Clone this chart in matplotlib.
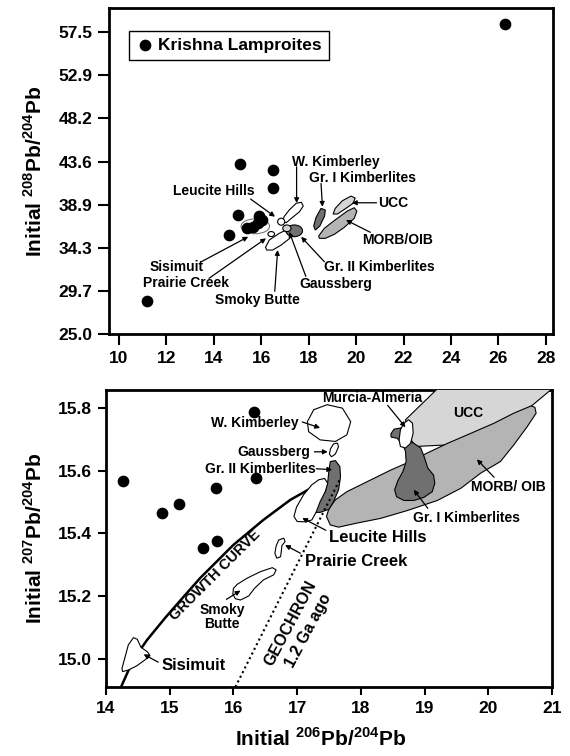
import numpy as np
import matplotlib
matplotlib.use('Agg')
import matplotlib.pyplot as plt
from matplotlib.patches import Ellipse

plt.rcParams['font.family'] = ['Liberation Sans', 'DejaVu Sans']
plt.rcParams['font.weight'] = 'bold'
plt.rcParams['mathtext.fontset'] = 'custom'
plt.rcParams['mathtext.rm'] = 'Liberation Sans:bold'
plt.rcParams['mathtext.bf'] = 'Liberation Sans:bold'

# Krishna lamproites, 206Pb/204Pb vs 208Pb/204Pb
k_x_208 = [26.27, 15.11, 16.48, 16.48, 15.02, 15.92, 14.62, 15.40, 15.65, 15.85, 16.05, 11.20]
k_y_208 = [58.40, 43.30, 42.65, 40.70, 37.80, 37.70, 35.70, 36.40, 36.55, 36.90, 37.30, 28.60]

# Krishna lamproites, 206Pb/204Pb vs 207Pb/204Pb
k_x_207 = [14.26, 14.88, 15.15, 15.72, 16.32, 16.36, 15.52, 15.74]
k_y_207 = [15.568, 15.466, 15.494, 15.544, 15.786, 15.576, 15.353, 15.376]

y208_ticks = [25.0, 29.64, 34.29, 38.93, 43.57, 48.21, 52.86, 57.5]
y208_labels = ['25.0', '29.7', '34.3', '38.9', '43.6', '48.2', '52.9', '57.5']
x208_ticks = [10, 12, 14, 16, 18, 20, 22, 24, 26, 28]
x207_ticks = [14, 15, 16, 17, 18, 19, 20, 21]
y207_ticks = [15.0, 15.2, 15.4, 15.6, 15.8]

# comparison fields, upper panel
wk_top = [(17.47, 39.07), (17.69, 39.18), (17.77, 38.78), (17.61, 38.16), (17.30, 37.52),
          (17.05, 36.98), (16.90, 37.13), (16.96, 37.63), (17.18, 38.35)]
gr1_top = [(18.52, 38.53), (18.70, 38.35), (18.67, 37.70), (18.47, 36.63), (18.28, 36.19),
           (18.21, 36.63), (18.31, 37.56)]
ucc_top = [(19.12, 38.53), (19.42, 39.35), (19.78, 39.85), (19.96, 39.64), (19.87, 39.07),
           (19.57, 38.53), (19.21, 37.92), (19.03, 37.92)]
morb_top = [(18.42, 35.55), (18.66, 36.38), (19.15, 37.35), (19.63, 38.24), (19.92, 38.60),
            (20.03, 38.24), (19.92, 37.45), (19.50, 36.48), (19.08, 35.73), (18.70, 35.30),
            (18.45, 35.30)]
smoky_top = [(16.18, 34.33), (16.34, 35.12), (16.76, 35.84), (17.11, 36.27), (17.35, 36.33),
             (17.39, 35.90), (17.18, 35.26), (16.84, 34.58), (16.48, 34.04), (16.23, 34.04)]

# comparison fields, lower panel
growth_x = [14.236, 14.425, 14.645, 14.928, 15.116, 15.478, 15.997, 16.469, 16.893, 17.365]
growth_y = [14.911, 14.997, 15.061, 15.131, 15.175, 15.258, 15.363, 15.443, 15.507, 15.561]
geochron_x = [16.03, 17.68]
geochron_y = [14.911, 15.576]

wk_bot = [(17.26, 15.794), (17.47, 15.810), (17.71, 15.799), (17.84, 15.756), (17.78, 15.714),
          (17.60, 15.693), (17.36, 15.698), (17.18, 15.724), (17.16, 15.756)]
gauss_bot = [(17.569, 15.685), (17.632, 15.688), (17.648, 15.676), (17.60, 15.653),
             (17.538, 15.644), (17.506, 15.653), (17.522, 15.669)]
gr2_bot = [(17.52, 15.629), (17.60, 15.632), (17.67, 15.613), (17.68, 15.581), (17.65, 15.539),
           (17.57, 15.501), (17.50, 15.477), (17.36, 15.467), (17.23, 15.467), (17.26, 15.484),
           (17.35, 15.507), (17.44, 15.533), (17.48, 15.565), (17.50, 15.602)]
leucite_bot = [(17.34, 15.571), (17.43, 15.575), (17.48, 15.560), (17.44, 15.533), (17.36, 15.501),
               (17.30, 15.469), (17.23, 15.443), (17.13, 15.437), (17.00, 15.438), (16.95, 15.454),
               (16.99, 15.484), (17.10, 15.523), (17.23, 15.555)]
prairie_bot = [(16.71, 15.379), (16.79, 15.385), (16.81, 15.374), (16.76, 15.361), (16.75, 15.342),
               (16.74, 15.326), (16.68, 15.321), (16.65, 15.337), (16.67, 15.360)]
smoky_bot = [(16.00, 15.225), (16.06, 15.238), (16.21, 15.257), (16.42, 15.278), (16.61, 15.291),
             (16.67, 15.284), (16.63, 15.268), (16.47, 15.252), (16.33, 15.225), (16.24, 15.201),
             (16.11, 15.188), (16.03, 15.192), (15.99, 15.207)]
sisimuit_bot = [(14.25, 14.970), (14.30, 15.007), (14.35, 15.045), (14.43, 15.068), (14.49, 15.063),
                (14.55, 15.037), (14.65, 15.023), (14.69, 15.011), (14.61, 14.997), (14.48, 14.978),
                (14.35, 14.965), (14.26, 14.960)]
murcia_bot = [(18.675, 15.751), (18.75, 15.762), (18.81, 15.751), (18.82, 15.719), (18.78, 15.687),
              (18.70, 15.672), (18.62, 15.677), (18.60, 15.698), (18.62, 15.730)]
gr1_bot = [(18.47, 15.717), (18.52, 15.732), (18.63, 15.736), (18.73, 15.698), (18.83, 15.687),
           (18.94, 15.672), (19.00, 15.640), (19.05, 15.608), (19.14, 15.586), (19.16, 15.560),
           (19.12, 15.533), (18.99, 15.515), (18.83, 15.505), (18.675, 15.505), (18.56, 15.517),
           (18.53, 15.539), (18.58, 15.568), (18.66, 15.597), (18.71, 15.629), (18.70, 15.661),
           (18.66, 15.682), (18.57, 15.703), (18.475, 15.707)]
morb_bot = [(20.67, 15.806), (20.40, 15.783), (20.09, 15.751), (19.67, 15.714), (19.36, 15.687),
            (19.04, 15.656), (18.83, 15.634), (18.47, 15.602), (18.10, 15.565), (17.78, 15.533),
            (17.60, 15.507), (17.50, 15.480), (17.46, 15.454), (17.52, 15.427), (17.65, 15.420),
            (17.94, 15.433), (18.31, 15.448), (18.73, 15.473), (19.20, 15.505), (19.57, 15.544),
            (19.88, 15.592), (20.19, 15.629), (20.40, 15.682), (20.61, 15.740), (20.75, 15.783),
            (20.73, 15.802)]
ucc_bot = [(18.70, 15.762), (19.40, 15.90), (21.5, 15.90), (21.5, 15.87), (20.98, 15.857),
           (20.51, 15.778), (19.88, 15.724), (19.36, 15.682), (18.86, 15.677), (18.78, 15.70)]

DARK = '#707070'
MID = '#b4b4b4'
LIGHT = '#d6d6d6'


def field(ax, pts, fc, z=3, lw=0.8):
    xs, ys = zip(*pts)
    ax.fill(xs, ys, facecolor=fc, edgecolor='black', lw=lw, zorder=z)


def arrow(ax, tail, tip):
    ax.annotate('', xy=tip, xytext=tail,
                arrowprops=dict(arrowstyle='-|>', color='black', lw=0.9,
                                mutation_scale=7, shrinkA=0, shrinkB=0), zorder=8)


def style(ax, ticklen):
    for s in ax.spines.values():
        s.set_linewidth(2)
    ax.tick_params(direction='out', length=ticklen, width=1.5, labelsize=12.5, pad=4)
    for lab in ax.get_xticklabels() + ax.get_yticklabels():
        lab.set_fontweight('bold')


fig = plt.figure(figsize=(5.7, 7.56), dpi=100)

# ---- upper panel: 208Pb/204Pb ----
ax1 = fig.add_axes([0.1912, 0.5582, 0.779, 0.4312])
ax1.set_xlim(9.58, 28.3)
ax1.set_ylim(25.0, 60.1)
ax1.set_xticks(x208_ticks)
ax1.set_yticks(y208_ticks)
ax1.set_yticklabels(y208_labels)

field(ax1, smoky_top, 'white')
field(ax1, wk_top, 'white')
field(ax1, gr1_top, DARK)
field(ax1, morb_top, MID)
field(ax1, ucc_top, LIGHT, z=4)
ax1.add_patch(Ellipse((17.39, 36.11), 0.70, 1.26, facecolor=DARK, edgecolor='black', lw=0.8, zorder=4))
ax1.add_patch(Ellipse((17.08, 36.38), 0.35, 0.72, facecolor='#d0d0d0', edgecolor='black', lw=0.8, zorder=5))
ax1.add_patch(Ellipse((16.84, 37.09), 0.30, 0.75, facecolor='white', edgecolor='black', lw=0.8, zorder=5))
ax1.add_patch(Ellipse((16.42, 35.76), 0.28, 0.54, facecolor='white', edgecolor='black', lw=0.8, zorder=5))
ax1.add_patch(Ellipse((15.75, 36.6), 1.2, 1.6, angle=0, facecolor='white', edgecolor='#777777', lw=0.8, zorder=4))

ax1.scatter(k_x_208, k_y_208, s=55, color='black', zorder=6, label='Krishna Lamproites')

fs = 10
ax1.text(19.16, 43.55, 'W. Kimberley', fontsize=fs, ha='center', va='center')
arrow(ax1, (17.49, 43.0), (17.49, 39.1))
ax1.text(20.27, 41.76, 'Gr. I Kimberlites', fontsize=fs, ha='center', va='center')
arrow(ax1, (18.52, 41.2), (18.58, 38.7))
ax1.text(20.92, 39.13, 'UCC', fontsize=fs, ha='left', va='center')
arrow(ax1, (20.86, 39.13), (19.82, 39.13))
ax1.text(21.76, 35.12, 'MORB/OIB', fontsize=fs, ha='center', va='center')
arrow(ax1, (20.6, 35.95), (19.57, 37.27))
ax1.text(21.0, 32.25, 'Gr. II Kimberlites', fontsize=fs, ha='center', va='center')
arrow(ax1, (18.66, 32.78), (17.68, 35.47))
ax1.text(19.16, 30.38, 'Gaussberg', fontsize=fs, ha='center', va='center')
arrow(ax1, (17.88, 31.2), (17.18, 36.0))
ax1.text(15.82, 28.66, 'Smoky Butte', fontsize=fs, ha='center', va='center')
arrow(ax1, (16.57, 29.6), (16.69, 34.04))
ax1.text(14.02, 40.39, 'Leucite Hills', fontsize=fs, ha='center', va='center')
arrow(ax1, (15.55, 39.53), (16.58, 37.63))
ax1.text(12.44, 32.25, 'Sisimuit', fontsize=fs, ha='center', va='center')
arrow(ax1, (13.48, 32.79), (15.45, 35.47))
ax1.text(12.81, 30.46, 'Prairie Creek', fontsize=fs, ha='center', va='center')
arrow(ax1, (13.8, 31.0), (16.2, 35.3))

leg = ax1.legend(loc='upper left', bbox_to_anchor=(0.045, 0.93), borderaxespad=0,
                 fancybox=False, edgecolor='black', framealpha=1, handletextpad=0.3,
                 borderpad=0.4, handlelength=1.0, prop={'weight': 'bold', 'size': 12.5})
leg.get_frame().set_linewidth(1.0)

ax1.set_ylabel(r'Initial $^{208}$Pb/$^{204}$Pb', fontsize=15, fontweight='bold')
ax1.yaxis.set_label_coords(-0.142, 0.5)
style(ax1, 8)

# ---- lower panel: 207Pb/204Pb ----
ax2 = fig.add_axes([0.186, 0.0913, 0.7825, 0.3929])
ax2.set_xlim(14.0, 21.0)
ax2.set_ylim(14.911, 15.857)
ax2.set_xticks(x207_ticks)
ax2.set_yticks(y207_ticks)
ax2.set_yticklabels(['%.1f' % v for v in y207_ticks])

ax2.plot(growth_x, growth_y, color='black', lw=1.8, zorder=2, solid_capstyle='butt')
field(ax2, ucc_bot, LIGHT, z=3)
field(ax2, morb_bot, MID, z=3)
field(ax2, gr1_bot, DARK, z=4)
field(ax2, murcia_bot, 'white', z=5)
field(ax2, gr2_bot, DARK, z=4)
field(ax2, leucite_bot, 'white', z=5)
field(ax2, wk_bot, 'white', z=5)
field(ax2, gauss_bot, 'white', z=5)
field(ax2, prairie_bot, 'white', z=5)
field(ax2, smoky_bot, 'white', z=5)
field(ax2, sisimuit_bot, 'white', z=5)
ax2.plot(geochron_x, geochron_y, color='black', lw=1.5, ls=(0, (1, 1.5)), zorder=6)

ax2.scatter(k_x_207, k_y_207, s=55, color='black', zorder=7)

ax2.text(16.34, 15.752, 'W. Kimberley', fontsize=fs, ha='center', va='center')
arrow(ax2, (17.08, 15.755), (17.36, 15.736))
ax2.text(16.63, 15.66, 'Gaussberg', fontsize=fs, ha='center', va='center')
arrow(ax2, (17.27, 15.66), (17.48, 15.66))
ax2.text(16.42, 15.606, 'Gr. II Kimberlites', fontsize=fs, ha='center', va='center')
arrow(ax2, (17.30, 15.606), (17.55, 15.603))
ax2.text(18.26, 15.386, 'Leucite Hills', fontsize=12, ha='center', va='center')
arrow(ax2, (17.45, 15.41), (17.08, 15.449))
ax2.text(17.93, 15.312, 'Prairie Creek', fontsize=12, ha='center', va='center')
arrow(ax2, (17.05, 15.337), (16.81, 15.363))
ax2.text(15.82, 15.134, 'Smoky\nButte', fontsize=fs, ha='center', va='center', linespacing=1.0)
arrow(ax2, (15.89, 15.19), (16.11, 15.218))
ax2.text(15.38, 14.978, 'Sisimuit', fontsize=12, ha='center', va='center')
arrow(ax2, (14.82, 14.99), (14.59, 15.015))
ax2.text(18.18, 15.832, 'Murcia-Almeria', fontsize=fs, ha='center', va='center')
arrow(ax2, (18.42, 15.808), (18.70, 15.738))
ax2.text(19.66, 15.449, 'Gr. I Kimberlites', fontsize=fs, ha='center', va='center')
arrow(ax2, (19.05, 15.48), (18.83, 15.539))
ax2.text(20.32, 15.547, 'MORB/ OIB', fontsize=fs, ha='center', va='center')
arrow(ax2, (20.09, 15.579), (19.82, 15.636))
ax2.text(19.68, 15.784, 'UCC', fontsize=fs, ha='center', va='center', zorder=6)

ax2.text(15.71, 15.268, 'GROWTH CURVE', fontsize=10.5, ha='center', va='center',
         rotation=45, rotation_mode='anchor')
ax2.text(16.893, 15.113, 'GEOCHRON', fontsize=11.5, ha='center', va='center',
         rotation=62, rotation_mode='anchor')
ax2.text(17.17, 15.092, '1.2 Ga ago', fontsize=11.5, ha='center', va='center',
         rotation=62, rotation_mode='anchor')

ax2.set_ylabel(r'Initial $^{207}$Pb/$^{204}$Pb', fontsize=15, fontweight='bold')
ax2.yaxis.set_label_coords(-0.135, 0.5)
ax2.set_xlabel(r'Initial $^{206}$Pb/$^{204}$Pb', fontsize=15, fontweight='bold')
ax2.xaxis.set_label_coords(0.48, -0.135)
style(ax2, 6)

fig.savefig('out.png', dpi=100)
